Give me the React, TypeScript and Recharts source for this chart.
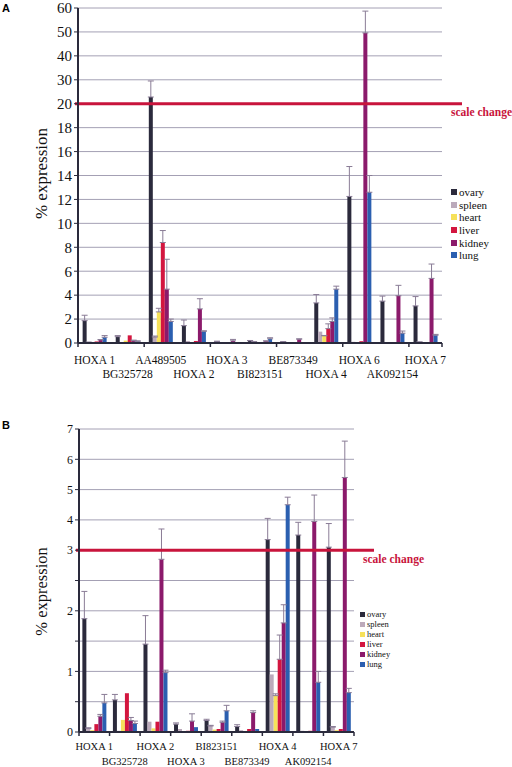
import { BarChart, Bar, XAxis, YAxis, CartesianGrid, ErrorBar, ReferenceLine, Legend } from 'recharts';

const CATEGORIES = [
  'HOXA 1', 'BG325728', 'AA489505', 'HOXA 2', 'HOXA 3', 'BI823151',
  'BE873349', 'HOXA 4', 'HOXA 6', 'AK092154', 'HOXA 7',
];
// panel B leaves out the two highly expressed transcripts
const CATEGORIES_B = CATEGORIES.filter((c) => c !== 'AA489505' && c !== 'HOXA 6');

const ovary = [1.87, 0.53, 22.8, 1.45, 0.13, 0.19, 0.09, 3.35, 12.25, 3.5, 3.1];
const ovaryErr = [0.45, 0.09, 6.7, 0.47, 0.02, 0.02, 0.03, 0.7, 2.5, 0.42, 0.78];
const spleen = [0.06, 0.02, 0.5, 0.17, 0.05, 0.1, 0.03, 0.95, 0.1, 0.02, 0.08];
const spleenErr = [0.01, 0, 0.08, 0, 0, 0.01, 0, 0, 0, 0, 0.01];
const heart = [0.03, 0.2, 2.6, 0.06, 0.01, 0.04, 0.01, 0.6, 0.02, 0.01, 0.03];
const heartErr = [0, 0, 0.3, 0, 0, 0, 0, 0.03, 0, 0, 0];
const liver = [0.13, 0.64, 8.4, 0.17, 0.02, 0.05, 0.05, 1.2, 0.15, 0.02, 0.05];
const liverErr = [0, 0, 1.0, 0, 0, 0, 0, 0.4, 0, 0, 0];
const kidney = [0.26, 0.19, 4.5, 2.85, 0.18, 0.16, 0.32, 1.8, 49.6, 3.95, 5.4];
const kidneyErr = [0.03, 0.05, 2.5, 0.85, 0.12, 0.02, 0.03, 0.3, 9.1, 0.87, 1.2];
const lung = [0.48, 0.14, 1.8, 0.98, 0.08, 0.35, 0.05, 4.5, 12.6, 0.82, 0.65];
const lungErr = [0.14, 0.04, 0.2, 0.04, 0, 0.09, 0, 0.25, 1.4, 0.18, 0.07];

const A_TICKS = [0, 2, 4, 6, 8, 10, 12, 14, 16, 18, 20, 30, 40, 50, 60];
const A_LABELS = A_TICKS.map(String);
const B_TICKS = [0, 0.5, 1, 1.5, 2, 2.5, 3, 4, 5, 6, 7];
const B_LABELS = B_TICKS.map((t) => (Number.isInteger(t) ? String(t) : ''));

const TISSUES = [
  { key: 'ovary', color: '#2b2a3c', values: ovary, errors: ovaryErr },
  { key: 'spleen', color: '#bcaabb', values: spleen, errors: spleenErr },
  { key: 'heart', color: '#f6e15a', values: heart, errors: heartErr },
  { key: 'liver', color: '#d3163f', values: liver, errors: liverErr },
  { key: 'kidney', color: '#8b1a6b', values: kidney, errors: kidneyErr },
  { key: 'lung', color: '#2b5fb0', values: lung, errors: lungErr },
];
const TISSUE_ORDER = TISSUES.map((t) => t.key);

const SERIF = '"Liberation Serif", "Times New Roman", serif';
const RED = '#c8143c';

// broken axis: one gridline band per lowStep below the break, per highStep above it
const brokenScale = (brk: number, lowStep: number, highStep: number) => (v: number) =>
  v <= brk ? v / lowStep : brk / lowStep + (v - brk) / highStep;

const scaleA = brokenScale(20, 2, 10);
const scaleB = brokenScale(3, 0.5, 1);

function buildRows(cats: string[], tf: (v: number) => number) {
  return cats.map((cat) => {
    const i = CATEGORIES.indexOf(cat);
    const row: any = { name: cat };
    TISSUES.forEach((t) => {
      const v = t.values[i];
      const e = t.errors[i];
      row[t.key] = tf(v);
      row[t.key + 'Err'] = e > 0 ? [0, tf(v + e) - tf(v)] : undefined;
    });
    return row;
  });
}

function CatTick(props: any) {
  const { x, y, payload, index, count, every, fontSize, row1, row2 } = props;
  const half = payload.offset ?? 0;
  const marks: number[] = [];
  if (index % every === 0) marks.push(x - half);
  if (index === count - 1) marks.push(x + half);
  return (
    <g>
      {marks.map((mx) => (
        <line key={mx} x1={mx} x2={mx} y1={y} y2={y + 4} stroke="#2a2a3c" strokeWidth={1.5} />
      ))}
      <text
        x={x}
        y={y + (index % 2 === 0 ? row1 : row2)}
        textAnchor="middle"
        fontFamily={SERIF}
        fontSize={fontSize}
        fill="#111"
      >
        {payload.value}
      </text>
    </g>
  );
}

interface PanelProps {
  cats: string[];
  tf: (v: number) => number;
  ticks: number[];
  labels: string[];
  breakAt: number;
  height: number;
  margin: { top: number; right: number; left: number; bottom: number };
  xAxisHeight: number;
  yAxisWidth: number;
  tickEvery: number;
  yFont: number;
  xFont: number;
  rows: [number, number];
  gap: string;
  legendPos: { left: number; top: number };
  legendFont: number;
  legendStep: number;
  swatch: number;
  titleFont: number;
  titleShift: number;
}

function Panel(p: PanelProps) {
  const data = buildRows(p.cats, p.tf);
  const top = p.tf(p.ticks[p.ticks.length - 1]);
  return (
    <BarChart
      width={512}
      height={p.height}
      data={data}
      margin={p.margin}
      barGap={0}
      barCategoryGap={p.gap}
    >
      <CartesianGrid vertical={false} stroke="#a4a0b4" />
      <XAxis
        dataKey="name"
        height={p.xAxisHeight}
        interval={0}
        tickSize={0}
        tickMargin={0}
        tickLine={false}
        axisLine={{ stroke: '#2a2a3c', strokeWidth: 2 }}
        tick={(tp: any) => (
          <CatTick
            {...tp}
            count={p.cats.length}
            every={p.tickEvery}
            fontSize={p.xFont}
            row1={p.rows[0]}
            row2={p.rows[1]}
          />
        )}
      />
      <YAxis
        width={p.yAxisWidth}
        domain={[0, top]}
        ticks={p.ticks.map(p.tf)}
        interval={0}
        tickSize={4}
        tickFormatter={(_v: number, i: number) => p.labels[i]}
        tick={{ fill: '#111', fontSize: p.yFont, fontFamily: SERIF }}
        tickLine={{ stroke: '#2a2a3c' }}
        axisLine={{ stroke: '#2a2a3c', strokeWidth: 2 }}
        label={{
          content: ({ viewBox }: any) => {
            const cx = 41;
            const cy = viewBox.y + viewBox.height / 2 + p.titleShift;
            return (
              <text
                x={cx}
                y={cy}
                transform={`rotate(-90 ${cx} ${cy})`}
                textAnchor="middle"
                dominantBaseline="central"
                fontFamily={SERIF}
                fontSize={p.titleFont}
                fill="#111"
              >
                % expression
              </text>
            );
          },
        }}
      />
      <YAxis
        yAxisId="edge"
        orientation="right"
        width={0}
        domain={[0, 1]}
        tick={false}
        tickLine={false}
        axisLine={{ stroke: '#b4b0c0' }}
      />
      {TISSUES.map((t) => (
        <Bar key={t.key} dataKey={t.key} name={t.key} fill={t.color} isAnimationActive={false}>
          <ErrorBar
            dataKey={t.key + 'Err'}
            direction="y"
            width={3}
            stroke="#8a7c96"
            strokeWidth={1}
          />
        </Bar>
      ))}
      <ReferenceLine
        y={p.tf(p.breakAt)}
        shape={(lp: any) => (
          <g>
            <line x1={lp.x1 - 3} y1={lp.y1} x2={lp.x2 + 20} y2={lp.y2} stroke={RED} strokeWidth={3} />
            <text
              x={lp.x2 + 9}
              y={lp.y1 + 12.5}
              fontFamily={SERIF}
              fontWeight="bold"
              fontSize={11.5}
              fill={RED}
            >
              scale change
            </text>
          </g>
        )}
      />
      <Legend
        layout="vertical"
        align="center"
        verticalAlign="middle"
        wrapperStyle={{ left: p.legendPos.left, top: p.legendPos.top, width: 'auto' }}
        content={({ payload }: any) => {
          const items = [...(payload || [])].sort(
            (a: any, b: any) => TISSUE_ORDER.indexOf(a.value) - TISSUE_ORDER.indexOf(b.value),
          );
          return (
            <div style={{ fontFamily: SERIF, fontSize: p.legendFont, color: '#111' }}>
              {items.map((entry: any) => (
                <div
                  key={entry.value}
                  style={{ display: 'flex', alignItems: 'center', height: p.legendStep, whiteSpace: 'nowrap' }}
                >
                  <span
                    style={{
                      display: 'inline-block',
                      width: p.swatch,
                      height: p.swatch,
                      background: entry.color,
                      marginRight: 2,
                    }}
                  />
                  {entry.value}
                </div>
              ))}
            </div>
          );
        }}
      />
    </BarChart>
  );
}

export default function App() {
  const letter = {
    position: 'absolute' as const,
    left: 2,
    fontFamily: '"Liberation Sans", Arial, sans-serif',
    fontWeight: 'bold' as const,
    fontSize: 11,
    lineHeight: '11px',
  };
  return (
    <div style={{ position: 'absolute', left: 0, top: 0, width: 512, height: 767, background: '#fff' }}>
      <div style={{ ...letter, top: 3 }}>A</div>
      <div style={{ ...letter, top: 420 }}>B</div>
      <div style={{ position: 'absolute', left: 0, top: 0 }}>
        <Panel
          cats={CATEGORIES}
          tf={scaleA}
          ticks={A_TICKS}
          labels={A_LABELS}
          breakAt={20}
          height={390}
          margin={{ top: 8, right: 70, left: 0, bottom: 0 }}
          xAxisHeight={47}
          yAxisWidth={78}
          tickEvery={2}
          yFont={15}
          xFont={11.5}
          rows={[21, 35]}
          gap="14%"
          legendPos={{ left: 451, top: 186 }}
          legendFont={11}
          legendStep={12.6}
          swatch={6}
          titleFont={17}
          titleShift={-2}
        />
      </div>
      <div style={{ position: 'absolute', left: 0, top: 400 }}>
        <Panel
          cats={CATEGORIES_B}
          tf={scaleB}
          ticks={B_TICKS}
          labels={B_LABELS}
          breakAt={3}
          height={367}
          margin={{ top: 29, right: 158, left: 0, bottom: 0 }}
          xAxisHeight={35}
          yAxisWidth={79}
          tickEvery={1}
          yFont={12}
          xFont={10.5}
          rows={[18, 33]}
          gap="11%"
          legendPos={{ left: 360, top: 209 }}
          legendFont={8.5}
          legendStep={10}
          swatch={5}
          titleFont={16.5}
          titleShift={11}
        />
      </div>
    </div>
  );
}
